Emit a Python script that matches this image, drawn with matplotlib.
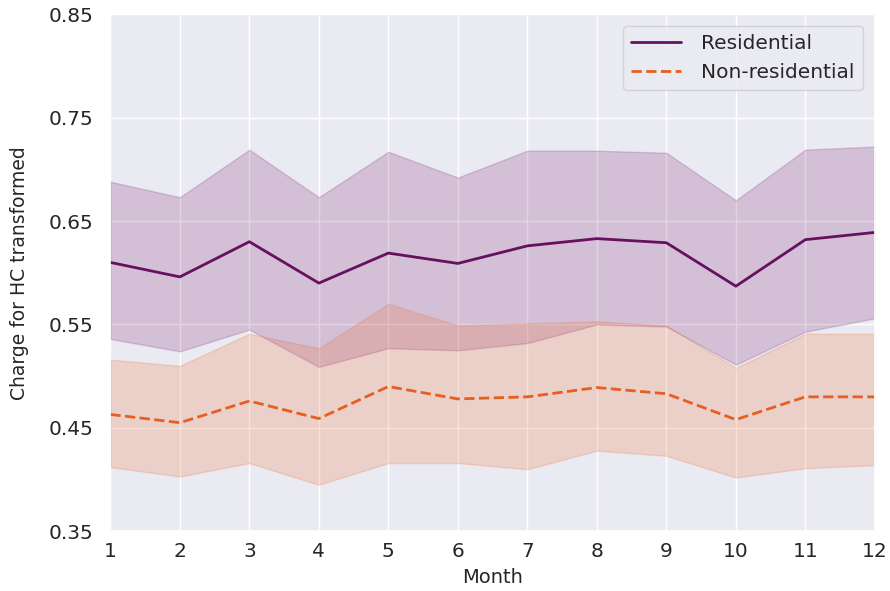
import matplotlib
matplotlib.use("Agg")
import matplotlib.pyplot as plt
import seaborn as sns

# Monthly mean charge with the band around it.
months = [1, 2, 3, 4, 5, 6, 7, 8, 9, 10, 11, 12]

res_mean = [0.610, 0.596, 0.630, 0.590, 0.619, 0.609, 0.626, 0.633, 0.629, 0.587, 0.632, 0.639]
res_hi = [0.688, 0.673, 0.719, 0.673, 0.717, 0.692, 0.718, 0.718, 0.716, 0.670, 0.719, 0.722]
res_lo = [0.536, 0.524, 0.545, 0.509, 0.527, 0.525, 0.532, 0.550, 0.548, 0.511, 0.543, 0.556]

non_mean = [0.463, 0.455, 0.476, 0.459, 0.490, 0.478, 0.480, 0.489, 0.483, 0.458, 0.480, 0.480]
non_hi = [0.516, 0.510, 0.541, 0.527, 0.570, 0.549, 0.551, 0.553, 0.549, 0.508, 0.541, 0.541]
non_lo = [0.412, 0.403, 0.416, 0.395, 0.416, 0.416, 0.410, 0.428, 0.423, 0.402, 0.411, 0.414]

yticks = [0.35, 0.45, 0.55, 0.65, 0.75, 0.85]

sns.set_theme(style="darkgrid")
plt.rcParams['font.family'] = ['DejaVu Sans']

band_colors = sns.color_palette("inferno", 2)
# lines look a touch darker than the bands in the reference
line_colors = ["#67105f", "#e85d20"]

fig, ax = plt.subplots(figsize=(8.9, 5.91), dpi=100)
fig.subplots_adjust(left=0.124, right=0.983, top=0.976, bottom=0.101)

ax.fill_between(months, res_lo, res_hi, color=band_colors[0], alpha=0.2)
ax.fill_between(months, non_lo, non_hi, color=band_colors[1], alpha=0.2)
ax.plot(months, res_mean, color=line_colors[0], lw=2, label="Residential")
ax.plot(months, non_mean, color=line_colors[1], lw=2, ls="--", label="Non-residential")

ax.set_xlim(1, 12)
ax.set_ylim(0.35, 0.85)
ax.set_xticks(months)
ax.set_yticks(yticks)
ax.set_yticklabels(["%.2f" % v for v in yticks])
ax.tick_params(axis="y", labelsize=14.5, length=0, pad=12)
ax.tick_params(axis="x", labelsize=14.5, length=0, pad=8)

ax.set_xlabel("Month", fontsize=14, labelpad=5)
ax.set_ylabel("Charge for HC transformed", fontsize=13.5, labelpad=14)

ax.legend(loc="upper right", fontsize=14.5, handlelength=2.5,
          handletextpad=1.0, borderaxespad=0.6)

fig.savefig("out.png")
